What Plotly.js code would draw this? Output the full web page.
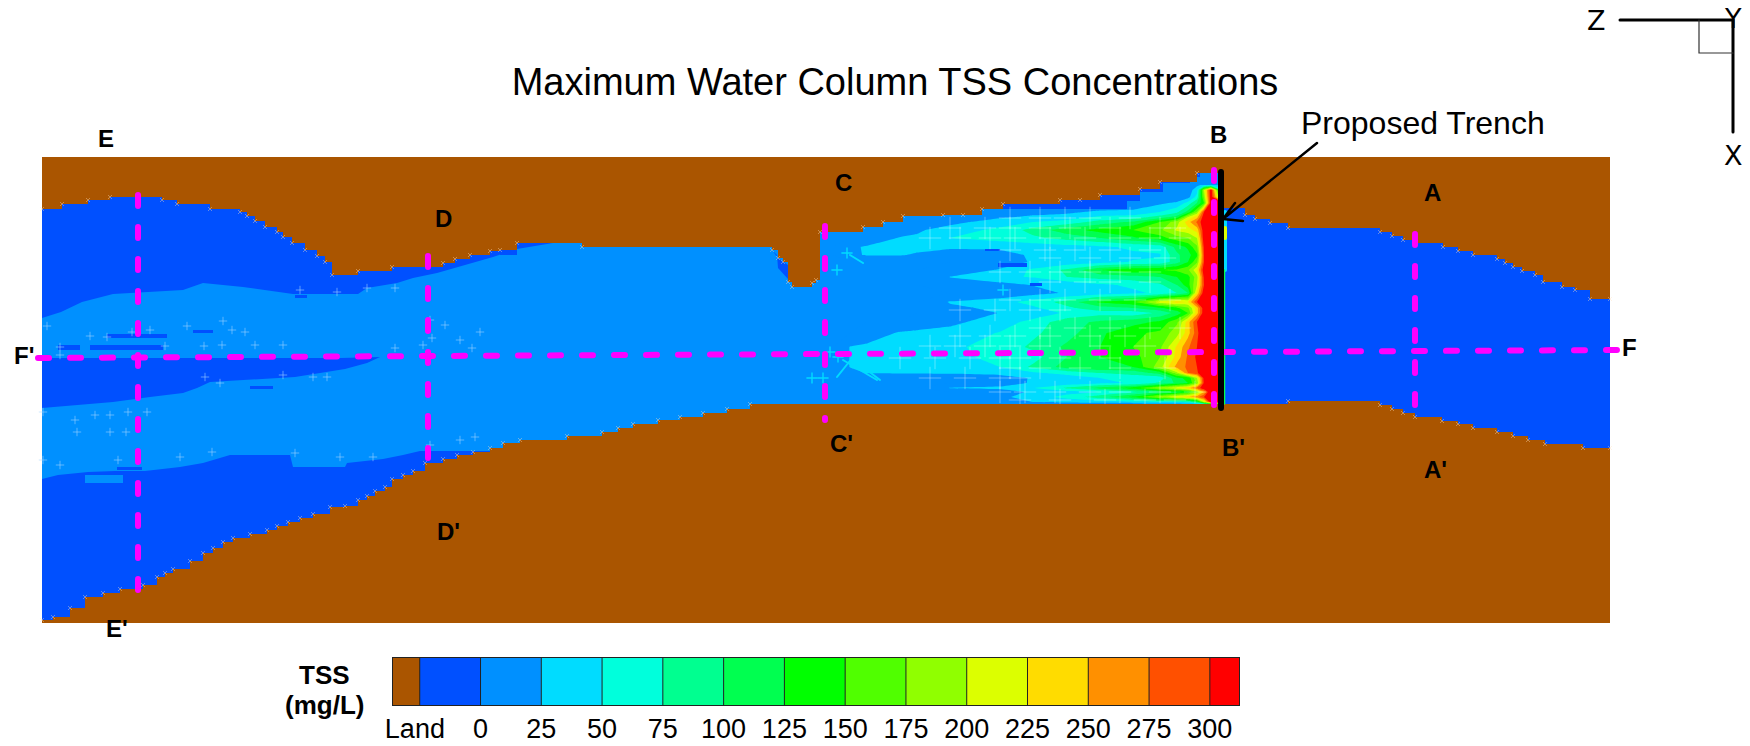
<!DOCTYPE html>
<html><head><meta charset="utf-8">
<script src="https://cdn.plot.ly/plotly-3.0.1.min.js"></script>
<style>html,body{margin:0;padding:0;background:#fff}#c{width:1750px;height:746px}
.scatterlayer .js-line{stroke-linecap:round}</style></head><body><div id="c"></div>
<script>
const legendEdges=[-36,-25,0,25,50,75,100,125,150,175,200,225,250,275,300,312];
const legendColors=['#AA5500','#0050FF','#0090FF','#00DCFF','#00FFDC','#00FF90','#00FF50','#00FF00','#50FF00','#90FF00','#DCFF00','#FFDC00','#FF9000','#FF5000','#FF0000'];
const legendTicks=[-27,0,25,50,75,100,125,150,175,200,225,250,275,300];
const legendTickText=['Land','0','25','50','75','100','125','150','175','200','225','250','275','300'];

const domainX=[42,1610,1610,42];
const domainY=[157,157,623,623];

const landTopX=[42,62,88,110,162,177,210,240,247,255,265,277,283,292,305,317,325,332,358,392,443,455,470,490,500,517,582,772,778,783,788,792,812,816,820,863,883,903,943,963,982,1003,1060,1080,1100,1140,1160,1197,1221,1245,1255,1270,1288,1380,1392,1403,1415,1443,1458,1473,1497,1505,1513,1522,1535,1543,1562,1575,1590,1610];
const landTopY=[209,204,200,197,200,204,209,212,216,221,227,232,237,243,250,256,262,275,271,267,263,259,255,251,250,243,247,250,258,262,282,287,283,280,232,227,222,216,215,215,209,204,200,200,195,189,182,173,208,215,219,223,228,232,236,240,243,247,251,255,259,263,267,271,275,282,287,290,299,299];
const landLowX=[42,53,70,85,103,120,143,157,165,173,190,203,213,223,233,250,267,277,288,300,313,330,345,358,367,375,385,392,403,413,425,443,457,473,490,503,520,567,602,618,633,658,680,703,727,750,1288,1380,1392,1403,1415,1442,1458,1473,1497,1513,1528,1545,1583,1610];
const landLowY=[620,617,608,597,593,589,585,577,573,569,561,553,548,542,538,534,530,526,522,518,514,507,506,500,496,491,487,479,475,471,463,459,455,452,448,443,440,436,432,428,424,420,417,413,409,404,401,405,409,413,417,421,424,428,432,436,440,444,448,448];

const lightX=[42,61,82,113,183,203,243,267,293,358,367,397,413,437,493,517,553,553,1221,1221,510,497,420,403,383,347,345,293,290,230,217,203,180,162,145,115,88,58,42,42,85,113,150,183,197,210,295,345,367,380,340,42];
const lightY=[318,312,302,294,290,283,287,290,294,294,288,283,278,273,257,249,243,200,160,450,450,451,451,455,459,463,467,467,455,455,459,463,467,469,471,471,472,475,479,408,404,402,397,393,388,382,377,369,363,357,358,358];
const patchX=[107,167,167,107,null,58,80,80,58,null,90,163,163,90,null,193,213,213,193,null,250,273,273,250,null,295,307,307,295,null,117,142,142,117,null,772,778,788,788,778,777,null,500,517,517,500,null,982,982,1127,1127,1140,1140,1163,1163,1190,1190,1200,1200,1214,1214,982,null,985,1000,1000,985,null,998,1027,1027,998,null,1030,1042,1042,1030];
const patchY=[334,334,338,338,null,345,345,350,350,null,345,345,350,350,null,330,330,333,333,null,386,386,389,389,null,295,295,298,298,null,467,467,470,470,null,250,258,265,279,268,255,null,245,245,255,255,null,165,209,209,201,201,192,192,183,183,177,177,173,173,165,165,null,249,249,251,251,null,263,263,267,267,null,283,283,286,286];
const islandX=[85,123,123,85];
const islandY=[475,475,483,483];

const plumeX=[833,850,867,900,917,950,1000,1033,1067,1100,1133,1160,1177,1188,1197,1204,1211,1222];
const plumeY=[185,190,197,203,212,217,222,230,238,247,255,262,270,277,285,293,302,308,313,322,333,347,357,367,373,378,383,388,392,397,402,405];
const plumeZ=[
[0,0,0,0,0,0,0,0,0,0,0,0,0,0,20,30,30,20],
[0,0,0,0,0,0,0,0,0,0,0,0,0,10,40,200,320,60],
[0,0,0,0,0,0,0,0,0,0,0,0,0,15,60,180,320,150],
[0,0,0,0,0,0,0,0,0,0,10,20,30,60,100,150,320,320],
[0,0,0,0,0,0,5,15,20,30,30,50,70,110,180,300,330,340],
[0,0,0,0,0,0,20,30,35,55,60,85,110,200,240,320,340,340],
[0,0,0,0,0,15,40,50,60,85,105,150,190,240,280,320,340,340],
[0,0,0,10,20,40,55,85,115,135,150,170,205,215,235,320,340,340],
[0,0,5,27,30,50,60,70,85,100,120,140,165,175,200,320,340,340],
[0,20,28,33,32,30,32,35,40,45,55,60,110,130,170,305,340,340],
[0,20,27,27,22,10,12,30,35,38,45,48,95,115,145,300,340,340],
[0,0,0,0,0,0,10,28,35,40,52,55,90,125,170,300,340,340],
[0,0,0,0,0,5,28,55,80,125,145,150,155,170,220,320,340,340],
[0,0,0,0,0,26,45,52,75,85,90,100,125,140,190,305,340,340],
[0,0,0,0,0,5,15,26,30,45,55,70,100,140,200,300,340,340],
[0,0,0,0,0,0,5,15,28,35,45,55,75,100,230,320,340,340],
[0,0,0,0,0,27,40,60,85,130,145,215,235,225,300,320,340,340],
[0,0,0,0,0,20,30,45,70,90,100,120,145,170,240,320,340,340],
[0,0,0,0,0,5,26,30,55,65,60,80,110,150,240,320,340,340],
[0,0,0,0,10,20,35,60,90,105,115,130,170,240,300,340,340,340],
[0,0,10,28,30,32,52,70,90,120,145,155,190,240,290,340,340,340],
[0,26,30,40,42,45,60,80,105,125,150,170,230,270,300,340,340,340],
[0,26,30,35,40,45,55,65,100,125,140,175,235,280,305,340,340,340],
[0,26,28,30,32,35,50,80,110,125,125,190,260,280,300,340,340,340],
[0,10,27,28,28,30,35,45,60,75,85,110,190,275,295,330,340,340],
[0,0,0,0,0,0,10,28,35,50,60,60,120,130,200,310,340,340],
[0,0,0,0,0,0,12,28,35,45,52,80,105,125,180,305,340,340],
[0,0,0,0,0,26,30,50,80,110,140,190,220,240,280,325,340,340],
[0,0,0,0,0,0,10,30,40,50,70,100,110,130,180,250,340,340],
[0,0,0,0,0,0,20,35,60,90,130,190,225,245,265,300,340,340],
[0,0,0,0,0,0,5,25,30,35,40,50,50,60,100,200,320,340],
[0,0,0,0,0,0,0,0,0,0,0,0,0,0,0,0,0,0]];
const plumeLevels=legendColors.slice(2);

const meshRows=[218,228,238,250,258,272,282,300,310,328,336,346,358,368,378,392,400];
const meshCols=[
[1010,1040,1065,1090,1130],
[950,985,1010,1040,1070,1110,1160,1175],
[930,960,990,1015,1050,1085,1120,1150,1180],
[1010,1045,1075,1110,1150],
[1050,1090,1130,1165],
[1000,1030,1060,1090,1120,1150],
[1050,1085,1110,1150],
[1010,1040,1065,1100,1135,1170],
[960,995,1030,1060],
[1040,1075,1110,1150,1180],
[960,990,1015,1050,1090,1125],
[930,955,985,1010,1040,1100,1145],
[900,935,970,1000,1020,1060,1110],
[1010,1040,1080,1120,1165],
[930,965,1000,1020],
[1000,1025,1055,1090,1120,1160,1195],
[1020,1060,1105,1145,1175]];
const speckX=[47,60,90,107,132,150,187,223,232,245,165,204,222,255,283,423,432,460,480,395,472,60,43,75,95,110,128,147,77,110,126,43,60,118,180,212,295,340,373,430,460,475,220,283,205,313,327,430,445,395,367,337,300];
const speckY=[326,347,336,337,332,330,326,321,330,332,346,346,345,345,345,345,338,340,332,348,348,355,412,420,415,415,412,412,432,432,432,460,465,460,457,452,453,457,457,445,440,437,383,375,377,377,377,320,325,288,288,292,290];
const hatchX=[843,877,null,837,853,null,867,880,null,850,863];
const hatchY=[360,380,null,377,357,null,370,380,null,255,263];
const glintX=[837,847,838,812,823,1003,830];
const glintY=[270,253,357,378,378,290,352];

const sectionLines=[
 {x:[38,1618],y:[358,350]},
 {x:[138,138],y:[195,592]},
 {x:[428,428],y:[256,458]},
 {x:[825,825],y:[226,420]},
 {x:[1214,1214],y:[170,408]},
 {x:[1415,1415],y:[234,413]}];
const labelText=['E','D','C','B','A',"F'",'F',"E'","D'","C'","B'","A'"];
const labelX=[106,443,843,1218,1432,24,1629,117,448,841,1233,1435];
const labelY=[138,218,182,134,192,355,347,628,531,443,447,469];
const arrowX=[1317,1223,1235,null,1223,1243];
const arrowY=[143,219,203,null,219,221];
const triadX=[1620,1733,1733];
const triadY=[20,20,132];
const squareX=[1699,1699,1733];
const squareY=[20,53,53];

function stepCs(cols){const n=cols.length,cs=[];cols.forEach((c,i)=>{cs.push([i/n,c]);cs.push([(i+1)/n,c]);});return cs;}
const sep={x:[],y:[]};legendEdges.slice(1,-1).forEach(e=>{sep.x.push(e,e,null);sep.y.push(0,1,null);});
const meshX=meshCols.flat();
const meshY=meshRows.flatMap((y,i)=>meshCols[i].map(()=>y));
const upper={xaxis:'x4',yaxis:'y4',hoverinfo:'skip'};
const traces=[
{x:domainX,y:domainY,mode:'lines',fill:'toself',fillcolor:legendColors[1],line:{width:0},hoverinfo:'skip'},
{x:lightX,y:lightY,mode:'lines',fill:'toself',fillcolor:legendColors[2],line:{width:0},hoverinfo:'skip'},
{x:islandX,y:islandY,mode:'lines',fill:'toself',fillcolor:legendColors[2],line:{width:0},hoverinfo:'skip'},
{type:'contour',xaxis:'x3',yaxis:'y3',x:plumeX,y:plumeY,z:plumeZ,autocontour:false,zauto:false,zmin:0,zmax:325,
 contours:{start:0,end:325,size:25,coloring:'fill',showlines:false},line:{width:0,smoothing:0},
 colorscale:stepCs(plumeLevels),showscale:false,hoverinfo:'skip'},
{...upper,x:patchX,y:patchY,mode:'lines',fill:'toself',fillcolor:legendColors[1],line:{width:0}},
{...upper,x:meshX,y:meshY,mode:'markers',marker:{symbol:'cross-thin-open',size:16,color:'rgba(255,255,255,.35)',line:{width:1}}},
{...upper,x:speckX,y:speckY,mode:'markers',marker:{symbol:'cross-thin-open',size:6,color:'rgba(170,215,255,.55)',line:{width:1}}},
{...upper,x:hatchX,y:hatchY,mode:'lines',line:{color:'#00DCFF',width:2}},
{...upper,x:glintX,y:glintY,mode:'markers',marker:{symbol:'cross-thin-open',size:8,color:'#00DCFF',line:{width:1.4}}},
{...upper,x:[...landTopX,1610,42],y:[...landTopY,157,157],mode:'lines',line:{width:0,shape:'hv'},fill:'toself',fillcolor:legendColors[0]},
{...upper,x:[...landLowX,1610,42],y:[...landLowY,623,623],mode:'lines',line:{width:0,shape:'hv'},fill:'toself',fillcolor:legendColors[0]},
{...upper,x:[...landTopX,...landLowX],y:[...landTopY,...landLowY],mode:'markers',marker:{symbol:'x-thin-open',size:4,color:'rgba(255,225,190,.4)',line:{width:1}}},
{...upper,x:[1225,1225],y:[212,270],mode:'lines',line:{color:'#00DCFF',width:4}},
{...upper,x:[1225,1225],y:[228,238],mode:'lines',line:{color:'#DCFF00',width:4}},
{...upper,x:[1224.5,1224.5],y:[270,404],mode:'lines',line:{color:'#00FF50',width:1.5}},
...sectionLines.map(s=>({...upper,x:s.x,y:s.y,mode:'lines',line:{color:'#FF00FF',width:6,dash:'11px,21px'}})),
{...upper,x:[1221,1221],y:[172,408],mode:'lines',line:{color:'#000',width:6}},
{...upper,x:arrowX,y:arrowY,mode:'lines',line:{color:'#000',width:2.5}},
{...upper,x:triadX,y:triadY,mode:'lines',line:{color:'#000',width:3}},
{...upper,x:squareX,y:squareY,mode:'lines',line:{color:'#333',width:1.2}},
{type:'heatmap',x:legendEdges,y:[0,1],z:[legendColors.map((c,i)=>i)],xaxis:'x2',yaxis:'y2',zmin:-0.5,zmax:14.5,
 colorscale:stepCs(legendColors),showscale:false,hoverinfo:'skip'},
{x:sep.x,y:sep.y,xaxis:'x2',yaxis:'y2',mode:'lines',line:{color:'#222',width:1},hoverinfo:'skip'}
];
const ann=(text,x,y,size,extra)=>Object.assign({text,x,y,xref:'x',yref:'y',showarrow:false,xanchor:'center',yanchor:'middle',
 font:{family:'"Liberation Sans",Arial,sans-serif',size,color:'#000'}},extra||{});
const annotations=labelText.map((t,i)=>ann('<b>'+t+'</b>',labelX[i],labelY[i],24));
annotations.push(ann('Proposed Trench',1423,123,32));
annotations.push(ann('Z',1596,20,27,{font:{family:'"DejaVu Sans",sans-serif',size:27,color:'#000'}}));
annotations.push(ann('Y',1733,18,27,{font:{family:'"DejaVu Sans",sans-serif',size:27,color:'#000'}}));
annotations.push(ann('X',1733,155,27,{font:{family:'"DejaVu Sans",sans-serif',size:27,color:'#000'}}));
annotations.push(ann('<b>TSS</b>',324,675,26));
annotations.push(ann('<b>(mg/L)</b>',324,705,26));

const hidden=o=>Object.assign({range:[0,1750],domain:[0,1],visible:false,fixedrange:true},o||{});
const hiddenY=o=>Object.assign({range:[746,0],domain:[0,1],visible:false,fixedrange:true},o||{});
const layout={width:1750,height:746,margin:{l:0,r:0,t:0,b:0},paper_bgcolor:'#fff',plot_bgcolor:'rgba(0,0,0,0)',showlegend:false,
 title:{text:'Maximum Water Column TSS Concentrations',x:895/1750,xanchor:'center',y:1-82/746,yanchor:'middle',
  font:{family:'"Liberation Sans",Arial,sans-serif',size:38,color:'#000'}},
 xaxis:hidden(),yaxis:hiddenY(),
 xaxis3:hidden({overlaying:'x',anchor:'y3'}),yaxis3:hiddenY({overlaying:'y',anchor:'x3'}),
 xaxis4:hidden({overlaying:'x',anchor:'y4'}),yaxis4:hiddenY({overlaying:'y',anchor:'x4'}),
 xaxis2:{anchor:'y2',domain:[393/1750,1239/1750],range:[-36,312],tickmode:'array',tickvals:legendTicks,ticktext:legendTickText,
  ticks:'',showgrid:false,zeroline:false,showline:true,linecolor:'#222',linewidth:1,mirror:true,
  tickfont:{family:'"Liberation Sans",Arial,sans-serif',size:27,color:'#000'}},
 yaxis2:{anchor:'x2',domain:[1-705/746,1-658/746],range:[0,1],showticklabels:false,ticks:'',showgrid:false,zeroline:false,showline:true,linecolor:'#222',linewidth:1,mirror:true},
 annotations};
Plotly.newPlot('c',traces,layout,{displayModeBar:false,staticPlot:true});
</script></body></html>
